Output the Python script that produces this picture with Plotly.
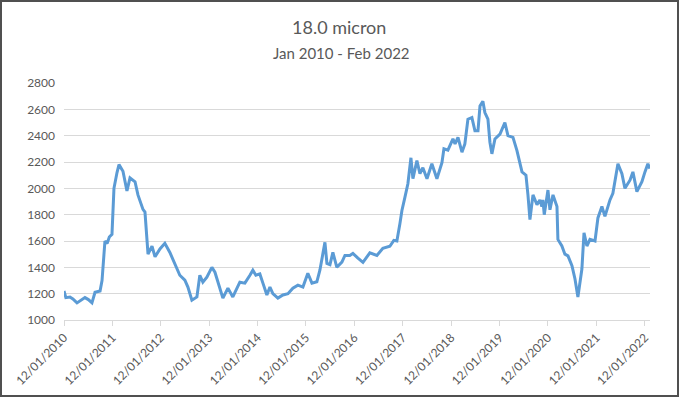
import plotly.graph_objects as go

dates = [
    "2010-01-12", "2010-01-26", "2010-02-26", "2010-03-20", "2010-04-20", "2010-05-20",
    "2010-06-19", "2010-07-15", "2010-08-11", "2010-09-03", "2010-10-11", "2010-10-26",
    "2010-11-17", "2010-12-03", "2010-12-20", "2011-01-09", "2011-01-24", "2011-02-16",
    "2011-03-03", "2011-04-02", "2011-05-02", "2011-05-25", "2011-07-02", "2011-07-24",
    "2011-08-31", "2011-09-15", "2011-10-08", "2011-11-07", "2011-11-30", "2012-01-06",
    "2012-02-12", "2012-03-21", "2012-04-28", "2012-06-04", "2012-07-12", "2012-08-04",
    "2012-09-03", "2012-10-11", "2012-11-02", "2012-11-25", "2012-12-25", "2013-02-01",
    "2013-02-24", "2013-04-02", "2013-04-25", "2013-06-02", "2013-07-09", "2013-08-31",
    "2013-10-08", "2013-11-15", "2013-12-07", "2013-12-30", "2014-01-29", "2014-02-21",
    "2014-03-23", "2014-04-15", "2014-05-07", "2014-06-14", "2014-07-22", "2014-08-29",
    "2014-10-05", "2014-11-12", "2014-12-20", "2015-01-26", "2015-02-26", "2015-04-04",
    "2015-04-27", "2015-05-20", "2015-06-04", "2015-06-19", "2015-07-12", "2015-08-03",
    "2015-09-02", "2015-10-10", "2015-11-02", "2015-12-09", "2016-01-01", "2016-02-08",
    "2016-03-17", "2016-05-08", "2016-06-30", "2016-08-14", "2016-10-06", "2016-11-05",
    "2016-11-28", "2016-12-21", "2017-01-05", "2017-01-27", "2017-02-19", "2017-03-14",
    "2017-03-29", "2017-04-28", "2017-05-21", "2017-06-12", "2017-07-13", "2017-08-19",
    "2017-09-26", "2017-11-03", "2017-11-18", "2017-12-18", "2018-01-02", "2018-01-25",
    "2018-02-10", "2018-03-04", "2018-04-03", "2018-04-25", "2018-05-18", "2018-06-17",
    "2018-07-10", "2018-08-02", "2018-08-17", "2018-09-08", "2018-09-23", "2018-10-16",
    "2018-10-31", "2018-11-15", "2018-12-08", "2019-01-15", "2019-02-21", "2019-03-16",
    "2019-04-23", "2019-05-23", "2019-06-30", "2019-07-30", "2019-08-14", "2019-08-29",
    "2019-09-21", "2019-10-21", "2019-11-12", "2019-11-27", "2019-12-05", "2019-12-15",
    "2020-01-12", "2020-01-27", "2020-02-19", "2020-03-20", "2020-03-27", "2020-04-26",
    "2020-05-19", "2020-06-11", "2020-07-11", "2020-08-03", "2020-08-25", "2020-09-24",
    "2020-10-10", "2020-11-01", "2020-11-24", "2021-01-01", "2021-01-23", "2021-02-22",
    "2021-03-17", "2021-04-24", "2021-05-16", "2021-06-23", "2021-07-23", "2021-08-15",
    "2021-09-22", "2021-10-14", "2021-11-13", "2021-12-21", "2022-01-13", "2022-02-04",
    "2022-02-19",
]

prices = [
    1220, 1170, 1175, 1160, 1130, 1150,
    1170, 1155, 1130, 1210, 1220, 1300,
    1600, 1580, 1630, 1650, 2000, 2120,
    2180, 2130, 1980, 2080, 2050, 1950,
    1840, 1820, 1500, 1560, 1480, 1540,
    1582, 1513, 1430, 1340, 1302, 1250,
    1150, 1175, 1340, 1287, 1325, 1400,
    1363, 1250, 1166, 1242, 1175, 1287,
    1280, 1340, 1378, 1340, 1350, 1280,
    1190, 1250, 1200, 1166, 1190, 1200,
    1242, 1265, 1250, 1355, 1280, 1290,
    1378, 1506, 1590, 1430, 1420, 1513,
    1400, 1440, 1490, 1490, 1506, 1470,
    1438, 1510, 1490, 1544, 1560, 1605,
    1600, 1733, 1832, 1930, 2035, 2232,
    2073, 2210, 2111, 2157, 2073, 2187,
    2073, 2195, 2300, 2290, 2325, 2375,
    2337, 2387, 2275, 2337, 2525, 2537,
    2437, 2437, 2625, 2662, 2575, 2525,
    2350, 2262, 2375, 2412, 2500, 2400,
    2387, 2287, 2125, 2100, 1950, 1762,
    1950, 1875, 1912, 1862, 1912, 1800,
    1987, 1837, 1950, 1862, 1612, 1562,
    1500, 1487, 1412, 1312, 1175, 1387,
    1662, 1562, 1612, 1600, 1775, 1862,
    1787, 1912, 1962, 2187, 2112, 2000,
    2062, 2125, 1975, 2050, 2125, 2187,
    2150,
]

tick_dates = [f"{y}-01-12" for y in range(2010, 2023)]
tick_labels = [f"12/01/{y}" for y in range(2010, 2023)]

title_text = "18.0 micron"
subtitle_text = "Jan 2010 - Feb 2022"

W, H = 680, 398
L, R, T, B = 64, 30, 83, 78
pw, ph = W - L - R, H - T - B


def px(x):
    return (x - L) / pw


def py(y):
    return (H - B - y) / ph


font_family = "Lato, 'Open Sans', sans-serif"
grey = "#595959"

fig = go.Figure()
fig.add_trace(go.Scatter(
    x=dates, y=prices, mode="lines",
    line=dict(color="#5B9BD5", width=3),
    hoverinfo="x+y",
))

fig.update_layout(
    width=W, height=H,
    margin=dict(l=L, r=R, t=T, b=B, autoexpand=False),
    paper_bgcolor="white", plot_bgcolor="white",
    showlegend=False,
    font=dict(family=font_family, color=grey, size=12),
    xaxis=dict(
        type="date",
        range=["2010-01-12", "2022-02-20"],
        tickmode="array", tickvals=tick_dates, ticktext=tick_labels,
        tickangle=-45, showgrid=False, automargin=False,
        showline=True, linecolor="#D9D9D9", linewidth=1,
        ticks="outside", ticklen=5, tickcolor="#D9D9D9",
        tickfont=dict(size=12, color=grey),
        zeroline=False,
    ),
    yaxis=dict(
        range=[1000, 2800], dtick=200, tick0=1000,
        showgrid=True, gridcolor="#D9D9D9", gridwidth=1,
        showline=False, zeroline=False, automargin=False,
        ticks="", ticklabelstandoff=8,
        tickfont=dict(size=12, color=grey),
    ),
    annotations=[
        dict(text=title_text, xref="paper", yref="paper", x=px(339), y=py(27),
             xanchor="center", yanchor="middle", showarrow=False,
             font=dict(size=18, color=grey, family=font_family)),
        dict(text=subtitle_text, xref="paper", yref="paper", x=px(341), y=py(53),
             xanchor="center", yanchor="middle", showarrow=False,
             font=dict(size=15, color=grey, family=font_family)),
    ],
    shapes=[
        dict(type="rect", xref="paper", yref="paper",
             x0=px(1), x1=px(678), y0=py(396), y1=py(1),
             line=dict(color="#505050", width=2), layer="above"),
    ],
)

fig.write_html(
    "out.html",
    config={"displayModeBar": False},
    post_script="document.body.style.margin='0';document.body.style.overflow='hidden';",
)
